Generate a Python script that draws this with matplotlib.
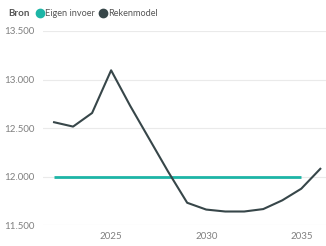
import matplotlib.pyplot as plt
from matplotlib.lines import Line2D

years = [2022, 2023, 2024, 2025, 2026, 2027, 2028, 2029, 2030, 2031, 2032, 2033, 2034, 2035, 2036]
rekenmodel = [12560, 12515, 12655, 13095, 12730, 12390, 12050, 11730, 11660, 11640, 11640, 11665, 11755, 11875, 12080]
eigen_years = [2022, 2035]
eigen_invoer = [12000, 12000]
yticks = [11500, 12000, 12500, 13000, 13500]
ytick_labels = ['11.500', '12.000', '12.500', '13.000', '13.500']
xticks = [2025, 2030, 2035]

plt.rcParams['font.family'] = ['Lato', 'DejaVu Sans']

fig = plt.figure(figsize=(3.26, 2.46), dpi=100)
ax = fig.add_axes([0.132, 0.085, 0.868, 0.789])

ax.plot(eigen_years, eigen_invoer, color='#1DB5A6', lw=2, solid_capstyle='butt', zorder=3)
ax.plot(years, rekenmodel, color='#374649', lw=1.5, zorder=4)

ax.set_xlim(2021.42, 2036.3)
ax.set_ylim(11500, 13500)
ax.set_yticks(yticks)
ax.set_yticklabels(ytick_labels)
ax.set_xticks(xticks)
ax.grid(axis='y', color='#eaeaea', lw=0.8)
ax.set_axisbelow(True)
for s in ax.spines.values():
    s.set_visible(False)
ax.tick_params(length=0, labelsize=7, colors='#808080', pad=5)
ax.tick_params(axis='y', pad=6)

# legend on top
fig.text(0.025, 0.945, 'Bron', fontsize=7, fontweight='bold', color='#555555', va='center')
handles = [Line2D([], [], marker='o', ls='', color='#1DB5A6', markersize=6),
           Line2D([], [], marker='o', ls='', color='#374649', markersize=6)]
fig.legend(handles, ['Eigen invoer', 'Rekenmodel'], loc='center left', bbox_to_anchor=(0.08, 0.945),
           ncol=2, frameon=False, fontsize=6.6, handletextpad=0.0, columnspacing=0.2,
           handlelength=1.2, labelcolor='#555555')

fig.savefig('out.png', dpi=100)
